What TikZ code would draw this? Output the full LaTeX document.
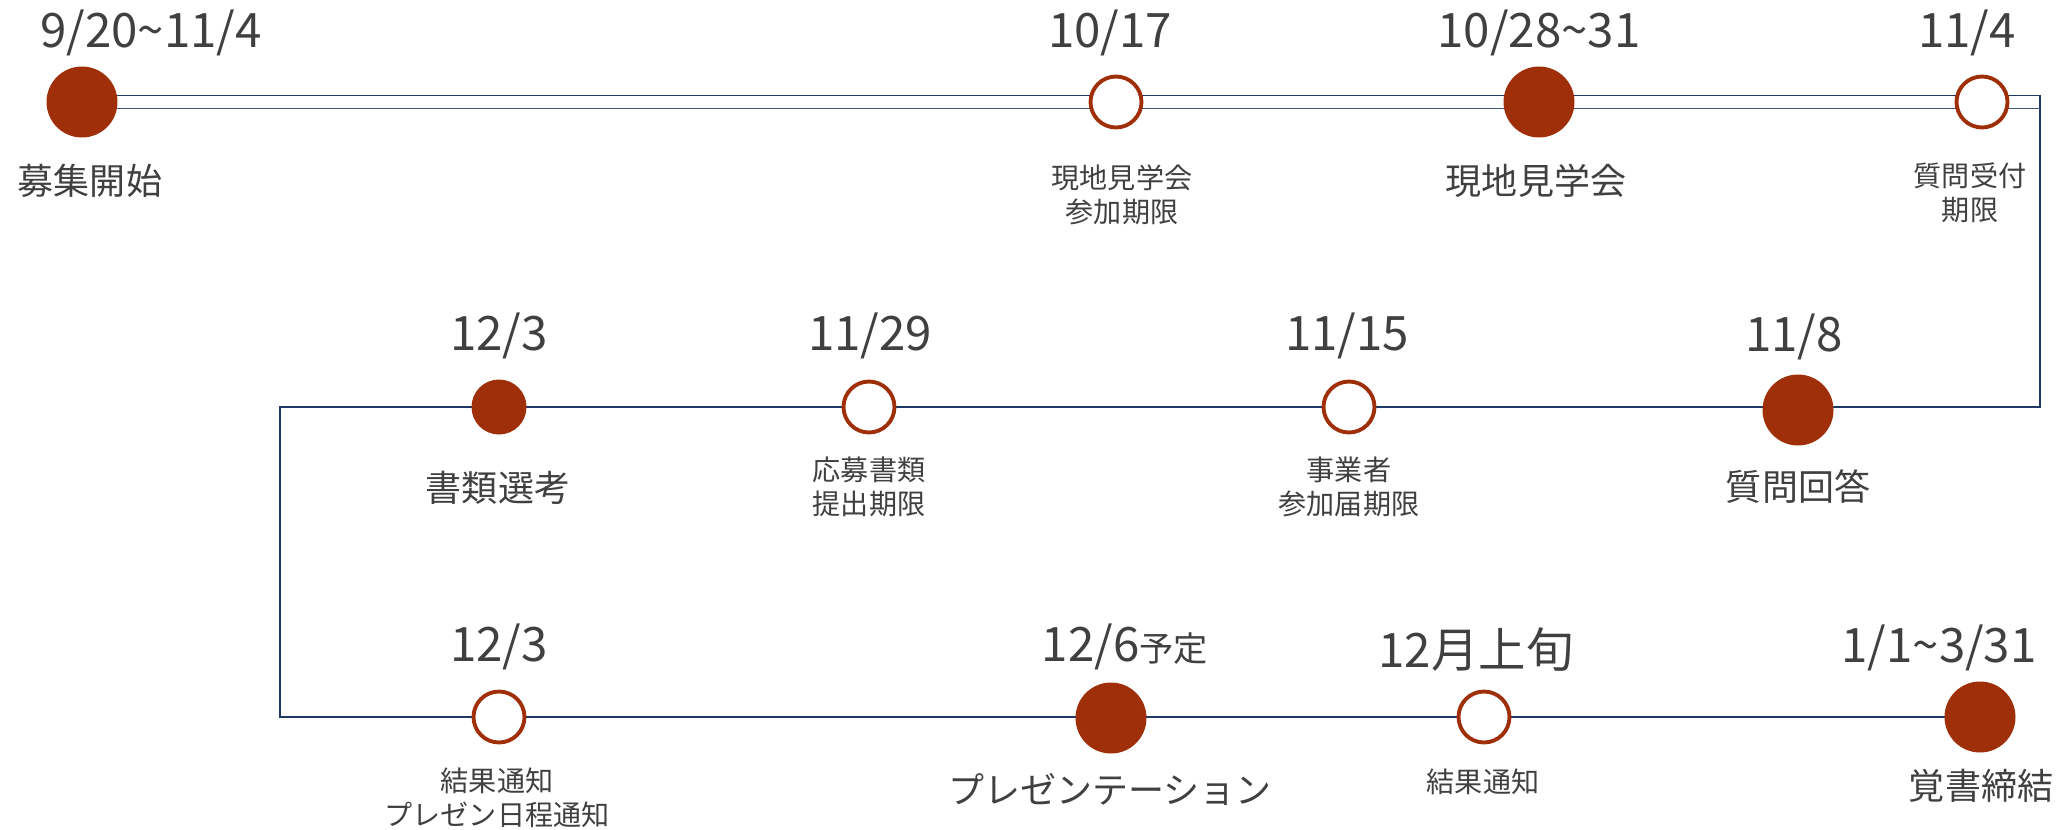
\documentclass[tikz,border=0pt]{standalone}
\usepackage{fontspec}
\setmainfont{Noto Sans CJK JP}
\usetikzlibrary{backgrounds}

\definecolor{rust}{RGB}{158,47,8}
\definecolor{navy}{RGB}{31,56,100}
\definecolor{txtgray}{RGB}{64,64,64}

\tikzset{
    fulldot/.style={circle, fill=rust, inner sep=0pt, minimum size=1.42cm},
    opendot/.style={circle, draw=rust, line width=2.2pt, fill=white, inner sep=0pt, minimum size=1.02cm},
    tline/.style={navy, line width=1.1pt},
    datelbl/.style={text=txtgray, inner sep=0pt, font=\fontsize{27}{32}\selectfont},
    biglbl/.style={text=txtgray, inner sep=0pt, font=\fontsize{20.5}{24}\selectfont},
    smalllbl/.style={text=txtgray, inner sep=0pt, align=center, font=\fontsize{16}{19.5}\selectfont}
}

\begin{document}
\begin{tikzpicture}[x=0.02cm, y=-0.02cm]
        \useasboundingbox (0,0) rectangle (2059,829);
        \coordinate (MR) at (2040,407);
        \coordinate (ML) at (280,407);
        \coordinate (BL) at (280,717);

        %row 1
        \node[fulldot] (recruit) at (82,102) {};
        \node[datelbl] (d-recruit) at (151,33) {9/20\textasciitilde 11/4};
        \node[biglbl] (l-recruit) at (90,181) {募集開始};

        \node[opendot] (tourdl) at (1116,102) {};
        \node[datelbl] (d-tourdl) at (1110,33) {10/17};
        \node[smalllbl] (l-tourdl) at (1122,195) {現地見学会\\参加期限};

        \node[fulldot] (tour) at (1539,102) {};
        \node[datelbl] (d-tour) at (1539,33) {10/28\textasciitilde 31};
        \node[biglbl] (l-tour) at (1536,181) {現地見学会};

        \node[opendot] (qdl) at (1982,102) {};
        \node[datelbl] (d-qdl) at (1967,33) {11/4};
        \node[smalllbl] (l-qdl) at (1970,193) {質問受付\\期限};

        %row 2
        \node[fulldot, minimum size=1.1cm] (screen) at (499,407) {};
        \node[datelbl] (d-screen) at (499,336) {12/3};
        \node[biglbl] (l-screen) at (498,488) {書類選考};

        \node[opendot] (docdl) at (869,407) {};
        \node[datelbl] (d-docdl) at (870,336) {11/29};
        \node[smalllbl] (l-docdl) at (869,487) {応募書類\\提出期限};

        \node[opendot] (entrydl) at (1349,407) {};
        \node[datelbl] (d-entrydl) at (1347,336) {11/15};
        \node[smalllbl] (l-entrydl) at (1349,487) {事業者\\参加届期限};

        \node[fulldot] (answer) at (1798,410) {};
        \node[datelbl] (d-answer) at (1794,337) {11/8};
        \node[biglbl] (l-answer) at (1798,487) {質問回答};

        %row 3
        \node[opendot] (notice) at (499,717) {};
        \node[datelbl] (d-notice) at (499,647) {12/3};
        \node[smalllbl] (l-notice) at (497,798) {結果通知\\プレゼン日程通知};

        \node[fulldot] (pres) at (1111,718) {};
        \node[datelbl] (d-pres) at (1125,647) {12/6{\fontsize{19.5}{24}\selectfont 予定}};
        \node[biglbl] (l-pres) at (1110,789) {プレゼンテーション};

        \node[opendot] (result) at (1484,717) {};
        \node[datelbl] (d-result) at (1476,650) {12月上旬};
        \node[smalllbl] (l-result) at (1483,782) {結果通知};

        \node[fulldot] (memo) at (1980,717) {};
        \node[datelbl] (d-memo) at (1939,648) {1/1\textasciitilde 3/31};
        \node[biglbl] (l-memo) at (1981,786) {覚書締結};

        % Lines.
        \begin{scope}[on background layer]
            \draw[tline] ([yshift=1.3mm]recruit.center) -- ([yshift=1.3mm]recruit.center -| MR) -- (MR) -- (ML) -- (BL) -- (memo.center);
            \draw[tline, navy!85] ([yshift=-1.3mm]recruit.center) -- ([yshift=-1.3mm]recruit.center -| MR);
        \end{scope}

    \end{tikzpicture}
\end{document}
